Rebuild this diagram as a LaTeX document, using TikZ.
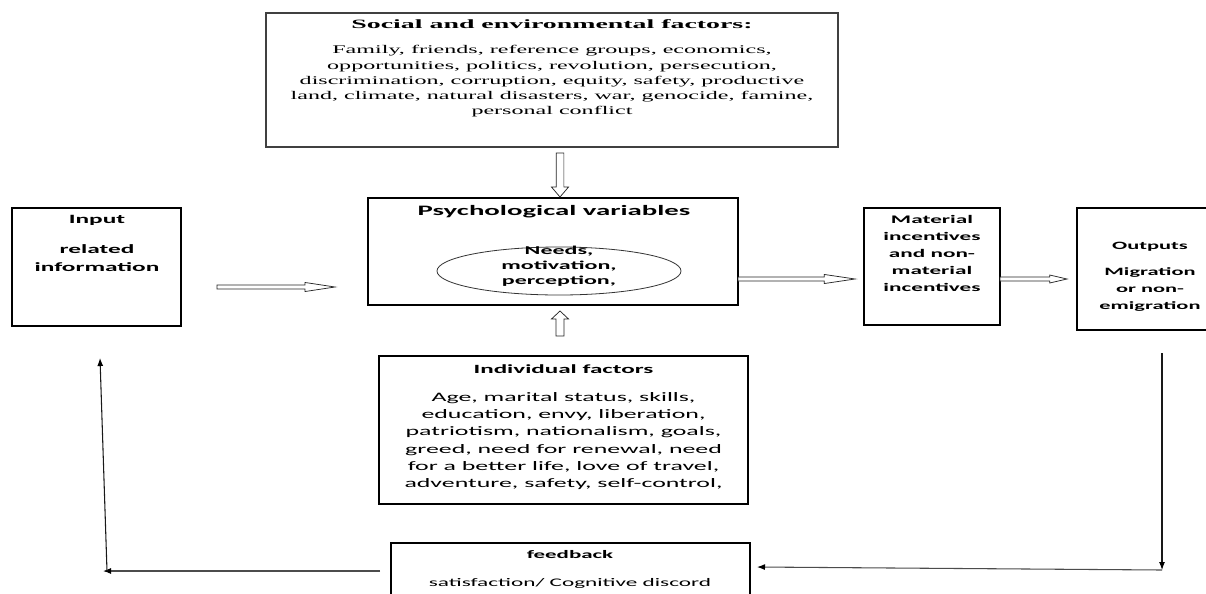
\documentclass[tikz,border=0pt]{standalone}
\usepackage{fontspec}
\usetikzlibrary{calc,arrows.meta,shapes.geometric}
\newfontfamily\sansw[FakeStretch=2.0]{Carlito}
\newfontfamily\serifw[FakeStretch=2.05]{Liberation Serif}
\newfontfamily\serifbw[FakeStretch=2.2]{Liberation Serif}
\newcommand\fs[2]{\fontsize{#1}{#2}\selectfont}
% hollow block arrow: start, end, half shaft, half head, head length
\newcommand\hollowarr[5]{%
  \path ($(#2)!#5!(#1)$) coordinate (hb);
  \draw[hollow] ($(#1)!#3!90:(#2)$) -- ($(hb)!#3!-90:(#1)$) -- ($(hb)!#4!-90:(#1)$) -- (#2)
     -- ($(hb)!#4!90:(#1)$) -- ($(hb)!#3!90:(#1)$) -- ($(#1)!#3!-90:(#2)$) -- cycle;}
\begin{document}
\begin{tikzpicture}[x=0.75pt,y=-0.75pt,
  box/.style={draw=black, line width=1pt, inner sep=0pt, fill=white},
  txt/.style={inner sep=0pt, align=center, text=black},
  hollow/.style={draw=black!85, line width=0.55pt, fill=white, line join=miter},
  fbline/.style={draw=black!70, line width=0.8pt, -{Latex[length=6pt,width=4.5pt,color=black]}}]
\clip (0,0) rectangle (1206,593);
\fill[white] (0,0) rectangle (1206,593);

% boxes
\node[box, draw=black!75, line width=1.2pt, minimum width=429pt, minimum height=100.5pt] (soc) at (552,80) {};
\node[box, minimum width=126.75pt, minimum height=88.5pt] (inp) at (96.5,267) {};
\node[box, minimum width=277.5pt, minimum height=80.25pt] (psy) at (553,251.5) {};
\node[box, minimum width=102pt, minimum height=87.75pt] (mat) at (932,266.5) {};
\node[box, minimum width=108.75pt, minimum height=91.5pt] (out) at (1149.5,269) {};
\node[box, minimum width=276.75pt, minimum height=111pt] (ind) at (563.5,430) {};
\node[box, minimum width=269.25pt, minimum height=54pt] (fb) at (570.5,579) {};
\coordinate (ell) at (559,271);
\draw[draw=black!80, line width=0.6pt] (ell) ellipse [x radius=122, y radius=24];

% texts
\node[txt, font=\serifbw\bfseries\fs{9.5}{11}] (socT) at (552,24) {Social and environmental factors:};
\node[txt, font=\serifw\fs{8.8}{11.45}] (socB) at (552,81.5) {Family, friends, reference groups, economics,\\opportunities, politics, revolution, persecution,\\discrimination, corruption, equity, safety, productive\\land, climate, natural disasters, war, genocide, famine,\\personal conflict};
\node[txt, font=\sansw\bfseries\fs{9.5}{12}] (inpT) at (97,220) {Input};
\node[txt, font=\sansw\bfseries\fs{9.5}{13.5}] (inpB) at (97,258) {related\\information};
\node[txt, font=\sansw\bfseries\fs{10.8}{13}] (psyT) at (554,212) {Psychological variables};
\node[txt, font=\sansw\bfseries\fs{9}{11.25}] (ellT) at (559,266) {Needs,\\motivation,\\perception,};
\node[txt, font=\sansw\bfseries\fs{8.7}{12.75}] (matT) at (932,253) {Material\\incentives\\and non-\\material\\incentives};
\node[txt, font=\sansw\bfseries\fs{8.4}{12}] (outT) at (1150,247) {Outputs};
\node[txt, font=\sansw\bfseries\fs{8.4}{12.75}] (outB) at (1150,290) {Migration\\or non-\\emigration};
\node[txt, font=\sansw\bfseries\fs{9.4}{12}] (indT) at (563.5,369) {Individual factors};
\node[txt, font=\sansw\fs{9.7}{12.9}] (indB) at (563.5,441) {Age, marital status, skills,\\education, envy, liberation,\\patriotism, nationalism, goals,\\greed, need for renewal, need\\for a better life, love of travel,\\adventure, safety, self-control,};
\node[txt, font=\sansw\bfseries\fs{8.6}{11}] (fbT) at (570,555) {feedback};
\node[txt, font=\sansw\fs{8.7}{11}] (fbB) at (570,583) {satisfaction/ Cognitive discord};

% hollow arrows
\coordinate (a1s) at (217,287); \coordinate (a1e) at (335,287);
\coordinate (a2s) at (738,279); \coordinate (a2e) at (855,279);
\coordinate (a3s) at (1000,279); \coordinate (a3e) at (1067,279);
\coordinate (a4s) at (560,153); \coordinate (a4e) at (560,197);
\coordinate (a5s) at (560,336); \coordinate (a5e) at (560,311);
\hollowarr{a1s}{a1e}{1.5pt}{3.4pt}{22.5pt}
\hollowarr{a2s}{a2e}{1.5pt}{3.4pt}{23pt}
\hollowarr{a3s}{a3e}{1.5pt}{3pt}{13pt}
\hollowarr{a4s}{a4e}{2.9pt}{6.4pt}{7.5pt}
\hollowarr{a5s}{a5e}{3pt}{6.4pt}{6pt}

% feedback loop
\coordinate (fbL) at (380,571);
\coordinate (cL) at (103,571);
\coordinate (cL2) at (107,571);
\coordinate (upT) at (100,358);
\coordinate (outD) at (1162,353);
\coordinate (cR) at (1162,570);
\coordinate (fbR) at (757,567);
\draw[fbline] (fbL) -- (cL);
\draw[fbline, draw=black!90] (cL2) -- (upT);
\draw[fbline, draw=black!90] (outD) -- (cR);
\draw[fbline] (cR) -- (fbR);
\end{tikzpicture}
\end{document}
